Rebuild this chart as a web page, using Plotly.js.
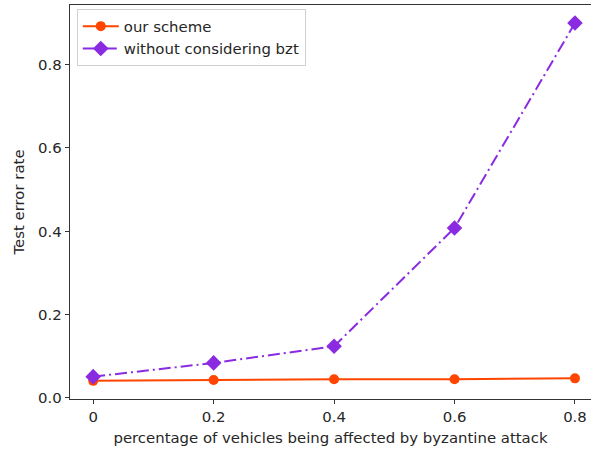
<!DOCTYPE html>
<html>
<head>
<meta charset="utf-8">
<script src="https://cdn.plot.ly/plotly-3.0.1.min.js"></script>
<style>html,body{margin:0;padding:0;background:#fff;}#chart{width:591px;height:449px;}</style>
</head>
<body>
<div id="chart"></div>
<script>
const xValues = [0, 0.2, 0.4, 0.6, 0.8];
const xTickLabels = ["0", "0.2", "0.4", "0.6", "0.8"];
const ourScheme = [0.041, 0.043, 0.045, 0.045, 0.047];
const withoutBzt = [0.051, 0.084, 0.124, 0.408, 0.900];
const seriesNames = ["our scheme", "without considering bzt"];
const yTicks = [0, 0.2, 0.4, 0.6, 0.8];
const yTickLabels = ["0.0", "0.2", "0.4", "0.6", "0.8"];

const font = {family: "DejaVu Sans, sans-serif", size: 14.9, color: "#262626"};

const traces = [
  {
    x: xValues, y: ourScheme, name: seriesNames[0], type: "scatter", mode: "lines+markers",
    line: {color: "#FF4500", width: 2},
    marker: {symbol: "circle", size: 10, color: "#FF4500"}
  },
  {
    x: xValues, y: withoutBzt, name: seriesNames[1], type: "scatter", mode: "lines+markers",
    line: {color: "#8A2BE2", width: 2, dash: "12px,4px,2px,4px"},
    marker: {symbol: "diamond", size: 12, color: "#8A2BE2"}
  }
];

const layout = {
  width: 591, height: 449,
  margin: {l: 70, r: 0, t: 5, b: 50},
  paper_bgcolor: "#fff", plot_bgcolor: "#fff",
  font: font,
  showlegend: true,
  legend: {
    x: 0.013, y: 0.99, xanchor: "left", yanchor: "top",
    bgcolor: "rgba(255,255,255,0.8)", bordercolor: "#d0d0d0", borderwidth: 1,
    font: font,
    itemwidth: 36, tracegroupgap: 0
  },
  xaxis: {
    range: [-0.0385, 0.8266],
    tickvals: xValues, ticktext: xTickLabels,
    showgrid: false, zeroline: false,
    showline: true, linecolor: "#333", linewidth: 1.3, mirror: true,
    ticks: "outside", ticklen: 4, tickcolor: "#333", tickwidth: 1,
    tickfont: font,
    title: {text: "percentage of vehicles being affected by byzantine attack", font: font, standoff: 7}
  },
  yaxis: {
    range: [-0.0026, 0.9432],
    tickvals: yTicks, ticktext: yTickLabels,
    showgrid: false, zeroline: false,
    showline: true, linecolor: "#333", linewidth: 1.3,
    ticks: "outside", ticklen: 4, tickcolor: "#333", tickwidth: 1,
    tickfont: font,
    title: {text: "Test error rate", font: font, standoff: 9}
  }
};

Plotly.newPlot("chart", traces, layout, {displayModeBar: false, staticPlot: true});
</script>
</body>
</html>
